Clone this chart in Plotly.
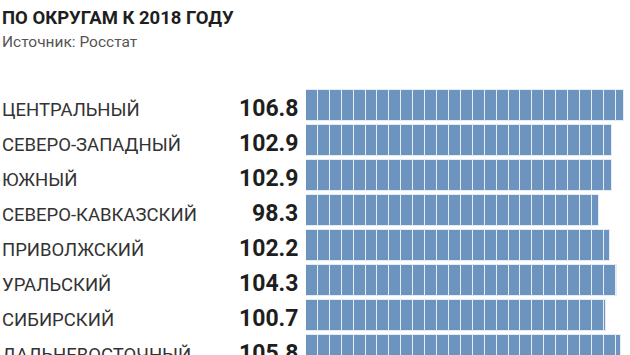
import plotly.graph_objects as go

regions = ["ЦЕНТРАЛЬНЫЙ", "СЕВЕРО-ЗАПАДНЫЙ", "ЮЖНЫЙ", "СЕВЕРО-КАВКАЗСКИЙ",
           "ПРИВОЛЖСКИЙ", "УРАЛЬСКИЙ", "СИБИРСКИЙ", "ДАЛЬНЕВОСТОЧНЫЙ"]
values = [106.8, 102.9, 102.9, 98.3, 102.2, 104.3, 100.7, 105.8]
value_labels = ["106.8", "102.9", "102.9", "98.3", "102.2", "104.3", "100.7", "105.8"]
segment = 4.0

W, H = 630, 355
left, top = 306, 60
xmax = (W - left) / 2.978

fig = go.Figure()
k = 0
while k * segment < max(values):
    base = k * segment
    ys, xs, bs = [], [], []
    for i, v in enumerate(values):
        w = min(segment, v - base)
        if w > 0:
            ys.append(i)
            xs.append(w)
            bs.append(base)
    fig.add_trace(go.Bar(
        y=ys, x=xs, base=bs, orientation="h", width=0.886,
        marker=dict(color="#6d93bf", line=dict(color="#e4ecf4", width=1)),
        showlegend=False, hoverinfo="skip"))
    k += 1

y_top = (top - 105.5) / 35
y_bot = (H - 105.5) / 35

ann = []
for i, (r, vl) in enumerate(zip(regions, value_labels)):
    ann.append(dict(xref="paper", yref="y", x=-left / (W - left), y=i + 0.12,
                    text=r, showarrow=False, xanchor="left", yanchor="middle",
                    font=dict(family="Roboto", size=18.5, color="#333333")))
    ann.append(dict(xref="paper", yref="y", x=-6 / (W - left), y=i + 0.08,
                    text="<b>" + vl + "</b>", showarrow=False, xanchor="right",
                    yanchor="middle",
                    font=dict(family="Roboto", size=23, color="#1e1e1e")))

ann.append(dict(xref="paper", yref="paper", x=-left / (W - left), y=(H - 18) / (H - top),
                text="<b>ПО ОКРУГАМ К 2018 ГОДУ</b>", showarrow=False,
                xanchor="left", yanchor="middle",
                font=dict(family="Roboto", size=18.5, color="#1e1e1e")))
ann.append(dict(xref="paper", yref="paper", x=-left / (W - left), y=(H - 42) / (H - top),
                text="Источник: Росстат", showarrow=False,
                xanchor="left", yanchor="middle",
                font=dict(family="Roboto", size=15.5, color="#555555")))

fig.update_layout(
    width=W, height=H,
    margin=dict(l=left, r=0, t=top, b=0, pad=0),
    paper_bgcolor="white", plot_bgcolor="white",
    barmode="overlay", bargap=0,
    xaxis=dict(range=[0, xmax], visible=False, fixedrange=True),
    yaxis=dict(range=[y_bot, y_top], visible=False, fixedrange=True),
    annotations=ann,
)

fig.write_html("out.html", config={"displayModeBar": False},
               post_script="document.body.style.margin='0';document.body.style.overflow='hidden';")
